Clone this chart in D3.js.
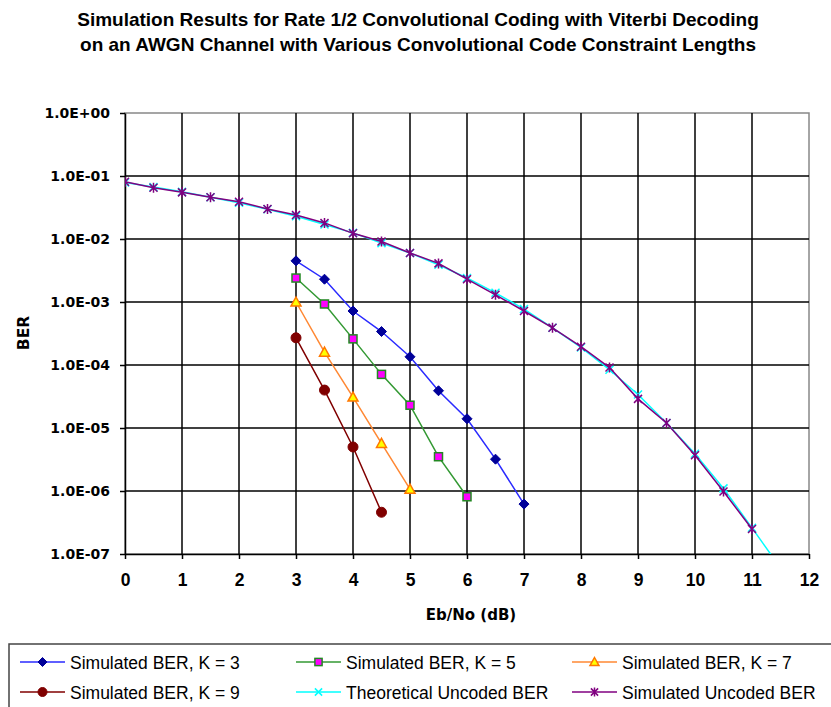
<!DOCTYPE html>
<html lang="en">
<head>
    <meta charset="UTF-8">
    <title>Convolutional Coding BER</title>
    <script src="https://d3js.org/d3.v7.min.js"></script>
    <style>
        body, html { margin: 0; padding: 0; overflow: hidden; background: #fff; }
        svg { display: block; font-family: "Liberation Sans", Arial, sans-serif; }
    </style>
</head>
<body>
<script>
    // Eb/No values (dB) and BER readings for each series
    const xK3 = [3, 3.5, 4, 4.5, 5, 5.5, 6, 6.5, 7];
    const berK3 = [4.5e-3, 2.3e-3, 7.2e-4, 3.4e-4, 1.35e-4, 3.9e-5, 1.4e-5, 3.2e-6, 6.2e-7];

    const xK5 = [3, 3.5, 4, 4.5, 5, 5.5, 6];
    const berK5 = [2.4e-3, 9.3e-4, 2.6e-4, 7.1e-5, 2.3e-5, 3.5e-6, 8.1e-7];

    const xK7 = [3, 3.5, 4, 4.5, 5];
    const berK7 = [1.0e-3, 1.6e-4, 3.1e-5, 5.7e-6, 1.07e-6];

    const xK9 = [3, 3.5, 4, 4.5];
    const berK9 = [2.7e-4, 4.0e-5, 5.0e-6, 4.6e-7];

    const xTheory = [0, 0.5, 1, 1.5, 2, 2.5, 3, 3.5, 4, 4.5, 5, 5.5, 6, 6.5, 7, 7.5, 8, 8.5, 9, 9.5, 10, 10.5, 11, 11.5];
    const berTheory = [7.9e-2, 6.7e-2, 5.6e-2, 4.6e-2, 3.75e-2, 2.96e-2, 2.3e-2, 1.7e-2, 1.25e-2, 8.6e-3, 6.0e-3,
        3.9e-3, 2.4e-3, 1.4e-3, 7.7e-4, 3.9e-4, 1.9e-4, 8.4e-5, 3.4e-5, 1.2e-5, 3.9e-6, 1.1e-6, 2.6e-7, 6.0e-8];

    const xUncoded = [0, 0.5, 1, 1.5, 2, 2.5, 3, 3.5, 4, 4.5, 5, 5.5, 6, 6.5, 7, 7.5, 8, 8.5, 9, 9.5, 10, 10.5, 11];
    const berUncoded = [8.1e-2, 6.5e-2, 5.5e-2, 4.6e-2, 3.9e-2, 3.0e-2, 2.4e-2, 1.8e-2, 1.23e-2, 9.1e-3, 6.0e-3,
        4.1e-3, 2.3e-3, 1.3e-3, 7.2e-4, 3.9e-4, 1.95e-4, 9.1e-5, 2.9e-5, 1.2e-5, 3.7e-6, 9.8e-7, 2.5e-7];

    const xTicks = [0, 1, 2, 3, 4, 5, 6, 7, 8, 9, 10, 11, 12];
    const yTicks = [1, 1e-1, 1e-2, 1e-3, 1e-4, 1e-5, 1e-6, 1e-7];
    const yTickLabels = ["1.0E+00", "1.0E-01", "1.0E-02", "1.0E-03", "1.0E-04", "1.0E-05", "1.0E-06", "1.0E-07"];

    const titleLines = [
        "Simulation Results for Rate 1/2 Convolutional Coding with Viterbi Decoding",
        "on an AWGN Channel with Various Convolutional Code Constraint Lengths"
    ];

    const series = [
        { name: "Simulated BER, K = 3", xs: xK3, ys: berK3, line: "#2a2aff", marker: "diamond", fill: "#000099", edge: "#000099" },
        { name: "Simulated BER, K = 5", xs: xK5, ys: berK5, line: "#339933", marker: "square", fill: "#ff00ff", edge: "#228822" },
        { name: "Simulated BER, K = 7", xs: xK7, ys: berK7, line: "#ff8833", marker: "triangle", fill: "#ffff00", edge: "#ff7700" },
        { name: "Simulated BER, K = 9", xs: xK9, ys: berK9, line: "#800000", marker: "circle", fill: "#800000", edge: "#800000" },
        { name: "Theoretical Uncoded BER", xs: xTheory, ys: berTheory, line: "#00ffff", marker: "cross", fill: "none", edge: "#00ffff" },
        { name: "Simulated Uncoded BER", xs: xUncoded, ys: berUncoded, line: "#800080", marker: "star", fill: "none", edge: "#800080" }
    ];

    const width = 831, height = 707;
    const plot = { left: 125, right: 809, top: 113, bottom: 554 };
    const wideFont = "'DejaVu Sans', sans-serif";
    const mainFont = "'Liberation Sans', Arial, sans-serif";

    const svg = d3.select("body").append("svg")
        .attr("width", width)
        .attr("height", height);

    const x = d3.scaleLinear().domain([0, 12]).range([plot.left, plot.right]);
    const y = d3.scaleLog().domain([1e-7, 1]).range([plot.bottom, plot.top]);

    // title
    svg.append("g").selectAll("text")
        .data(titleLines)
        .enter().append("text")
        .attr("x", 418)
        .attr("y", (d, i) => 26 + i * 25)
        .attr("text-anchor", "middle")
        .style("font-family", mainFont)
        .attr("font-size", 19)
        .attr("font-weight", "bold")
        .text(d => d);

    // plot border (grey)
    svg.append("rect")
        .attr("x", plot.left).attr("y", plot.top)
        .attr("width", plot.right - plot.left).attr("height", plot.bottom - plot.top)
        .attr("fill", "none").attr("stroke", "#888").attr("stroke-width", 1.5);

    // gridlines
    svg.append("g").selectAll("line")
        .data(xTicks.filter(d => d > 0 && d < 12))
        .enter().append("line")
        .attr("x1", d => x(d)).attr("x2", d => x(d))
        .attr("y1", plot.top).attr("y2", plot.bottom)
        .attr("stroke", "#000").attr("stroke-width", 1.5);

    svg.append("g").selectAll("line")
        .data(yTicks.filter(d => d < 1 && d > 1e-7))
        .enter().append("line")
        .attr("x1", plot.left).attr("x2", plot.right)
        .attr("y1", d => y(d)).attr("y2", d => y(d))
        .attr("stroke", "#000").attr("stroke-width", 1.5);

    // axes
    const xAxis = svg.append("g")
        .attr("transform", `translate(0,${plot.bottom})`)
        .call(d3.axisBottom(x).tickValues(xTicks).tickSize(5).tickSizeOuter(0).tickPadding(15).tickFormat(d3.format("d")));
    xAxis.select(".domain").attr("stroke", "#000").attr("stroke-width", 1.5);
    xAxis.selectAll(".tick line").attr("stroke", "#000").attr("stroke-width", 1.5);
    xAxis.selectAll(".tick text")
        .style("font-family", mainFont)
        .attr("font-size", 17.5).attr("font-weight", "bold").attr("fill", "#000");

    const yAxis = svg.append("g")
        .attr("transform", `translate(${plot.left},0)`)
        .call(d3.axisLeft(y).tickValues(yTicks).tickSize(5).tickSizeOuter(0).tickPadding(10)
            .tickFormat((d, i) => yTickLabels[i]));
    yAxis.select(".domain").attr("stroke", "#000").attr("stroke-width", 1.5);
    yAxis.selectAll(".tick line").attr("stroke", "#000").attr("stroke-width", 1.5);
    yAxis.selectAll(".tick text")
        .style("font-family", wideFont)
        .attr("font-size", 14).attr("font-weight", "bold").attr("fill", "#000");

    // axis titles
    svg.append("text")
        .attr("x", 471).attr("y", 620)
        .attr("text-anchor", "middle")
        .style("font-family", wideFont)
        .attr("font-size", 15).attr("font-weight", "bold")
        .text("Eb/No (dB)");

    svg.append("text")
        .attr("transform", `translate(29,333) rotate(-90)`)
        .attr("text-anchor", "middle")
        .style("font-family", wideFont)
        .attr("font-size", 15.5).attr("font-weight", "bold")
        .text("BER");

    // marker drawing
    function drawMarker(g, s, size) {
        const k = size;
        if (s.marker === "diamond") {
            g.append("path").attr("d", `M0,${-k}L${k},0L0,${k}L${-k},0Z`)
                .attr("fill", s.fill).attr("stroke", s.edge);
        } else if (s.marker === "square") {
            g.append("rect").attr("x", -k * 0.8).attr("y", -k * 0.8).attr("width", k * 1.6).attr("height", k * 1.6)
                .attr("fill", s.fill).attr("stroke", s.edge).attr("stroke-width", 1.5);
        } else if (s.marker === "triangle") {
            g.append("path").attr("d", `M0,${-k}L${k},${k * 0.8}L${-k},${k * 0.8}Z`)
                .attr("fill", s.fill).attr("stroke", s.edge).attr("stroke-width", 1.5);
        } else if (s.marker === "circle") {
            g.append("circle").attr("r", k).attr("fill", s.fill).attr("stroke", s.edge);
        } else if (s.marker === "cross") {
            const c = k * 0.8;
            g.append("path").attr("d", `M${-c},${-c}L${c},${c}M${-c},${c}L${c},${-c}`)
                .attr("stroke", s.edge).attr("stroke-width", 1.5);
        } else if (s.marker === "star") {
            const c = k * 0.8;
            g.append("path").attr("d", `M${-c},${-c}L${c},${c}M${-c},${c}L${c},${-c}M0,${-k}L0,${k}`)
                .attr("stroke", s.edge).attr("stroke-width", 1.5);
        }
    }

    // series, clipped to the plot area
    svg.append("clipPath").attr("id", "plotClip")
        .append("rect")
        .attr("x", plot.left).attr("y", plot.top)
        .attr("width", plot.right - plot.left).attr("height", plot.bottom - plot.top);

    const drawOrder = [4, 5, 0, 1, 2, 3];
    const lineGen = d3.line().x(d => x(d[0])).y(d => y(d[1]));

    drawOrder.forEach(idx => {
        const s = series[idx];
        const pts = s.xs.map((v, i) => [v, s.ys[i]]);
        const g = svg.append("g").attr("clip-path", "url(#plotClip)");
        g.append("path")
            .datum(pts)
            .attr("d", lineGen)
            .attr("fill", "none")
            .attr("stroke", s.line)
            .attr("stroke-width", 1.5);
        g.selectAll("g.pt")
            .data(pts)
            .enter().append("g")
            .attr("class", "pt")
            .attr("transform", d => `translate(${x(d[0])},${y(d[1])})`)
            .each(function () { drawMarker(d3.select(this), s, 5); });
    });

    // legend
    const legend = svg.append("g");
    legend.append("rect")
        .attr("x", 9).attr("y", 644)
        .attr("width", 830).attr("height", 80)
        .attr("fill", "#fff").attr("stroke", "#444").attr("stroke-width", 1.5);

    const legendCols = [20, 296, 572];
    const legendRows = [662, 692];
    series.forEach((s, i) => {
        const lx = legendCols[i % 3], ly = legendRows[Math.floor(i / 3)];
        const g = legend.append("g").attr("transform", `translate(${lx},${ly})`);
        g.append("line").attr("x1", 0).attr("x2", 45).attr("y1", 0).attr("y2", 0)
            .attr("stroke", s.line).attr("stroke-width", 1.5);
        const m = g.append("g").attr("transform", "translate(22.5,0)");
        drawMarker(m, s, 4.5);
        g.append("text")
            .attr("x", 50).attr("y", 6.5)
            .style("font-family", mainFont)
            .attr("font-size", 17.5)
            .text(s.name);
    });
</script>
</body>
</html>
